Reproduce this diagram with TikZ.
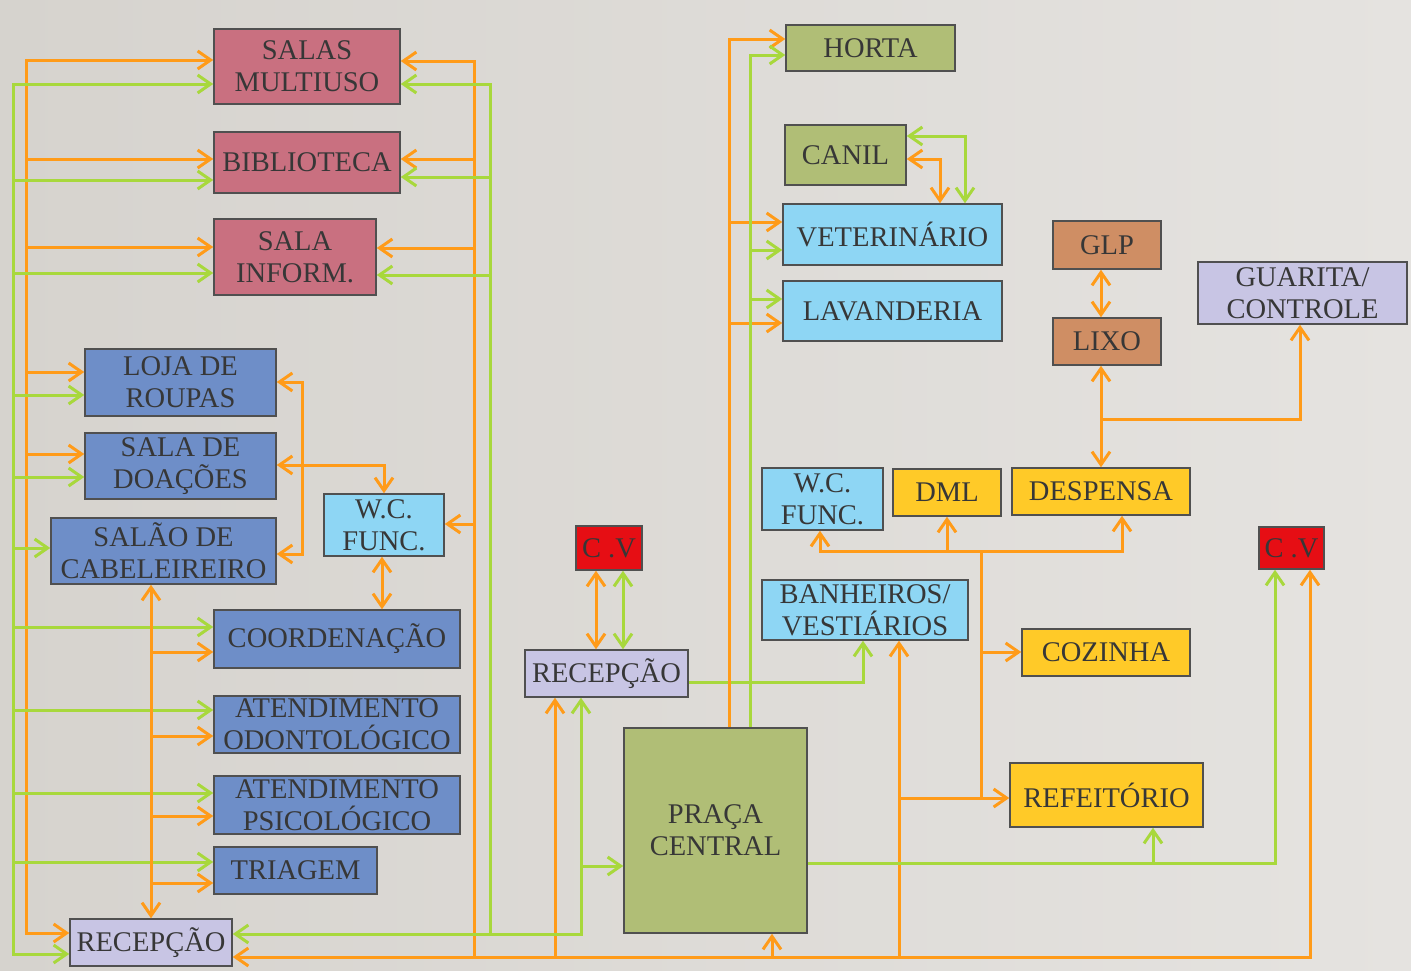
\documentclass[tikz,border=0pt]{standalone}
\usepackage{fontspec}
\setmainfont{Liberation Serif}
\usetikzlibrary{arrows.meta}

\definecolor{bgA}{HTML}{D6D3CE}
\definecolor{bgB}{HTML}{E5E3E0}
\definecolor{boxedge}{HTML}{505050}
\definecolor{ink}{HTML}{373737}
\definecolor{cpink}{HTML}{C97080}
\definecolor{cblue}{HTML}{6E8EC8}
\definecolor{csky}{HTML}{8ED6F4}
\definecolor{clav}{HTML}{C8C5E4}
\definecolor{colive}{HTML}{B0BE76}
\definecolor{cbrown}{HTML}{CF8E64}
\definecolor{cyellow}{HTML}{FFCA28}
\definecolor{cred}{HTML}{E60E14}
\definecolor{lorange}{HTML}{FF9B19}
\definecolor{lgreen}{HTML}{A8D83C}

% a room box given by its style, name, two opposite corners and its text
\newcommand\putroom[7]{%
  \pgfmathsetmacro\rcx{(#3+#5)/2}\pgfmathsetmacro\rcy{(#4+#6)/2}%
  \pgfmathsetmacro\rw{#5-#3}\pgfmathsetmacro\rh{#6-#4}%
  \node[#1,minimum width=\rw pt,minimum height=\rh pt] (#2) at (\rcx,\rcy) {#7};}

\begin{document}
\begin{tikzpicture}[x=1pt,y=-1pt,
  room/.style={draw=boxedge,line width=1.5pt,inner sep=0pt,align=center,
    text=ink,font=\fontsize{28.5}{31.7}\selectfont},
  pinkroom/.style={room,fill=cpink},
  blueroom/.style={room,fill=cblue},
  skyroom/.style={room,fill=csky},
  lavroom/.style={room,fill=clav},
  oliveroom/.style={room,fill=colive},
  brownroom/.style={room,fill=cbrown},
  yellowroom/.style={room,fill=cyellow},
  redroom/.style={room,fill=cred},
  og/.style={draw=lorange,line width=3pt},
  gr/.style={draw=lgreen,line width=3pt},
  >={Straight Barb[length=13pt,width=18pt]},
]
% background
\shade[left color=bgA,right color=bgB] (0,0) rectangle (1411,970);
\useasboundingbox (0,0) rectangle (1411,970);

% ---------- rooms ----------
\putroom{pinkroom}{salas}{214}{29}{400}{104}{SALAS\\MULTIUSO}
\putroom{pinkroom}{bib}{214}{132}{400}{193}{BIBLIOTECA}
\putroom{pinkroom}{inform}{214}{219}{376}{295}{SALA\\INFORM.}
\putroom{blueroom}{loja}{85}{349}{276}{416}{LOJA DE\\ROUPAS}
\putroom{blueroom}{doac}{85}{433}{276}{499}{SALA DE\\DOAÇÕES}
\putroom{blueroom}{salao}{51}{518}{276}{584}{SALÃO DE\\CABELEIREIRO}
\putroom{skyroom}{wcl}{324}{494}{444}{556}{W.C.\\FUNC.}
\putroom{blueroom}{coord}{214}{610}{460}{668}{COORDENAÇÃO}
\putroom{blueroom}{odonto}{214}{696}{460}{753}{ATENDIMENTO\\ODONTOLÓGICO}
\putroom{blueroom}{psico}{214}{776}{460}{834}{ATENDIMENTO\\PSICOLÓGICO}
\putroom{blueroom}{triagem}{214}{847}{377}{894}{TRIAGEM}
\putroom{lavroom}{recl}{70}{919}{232}{966}{RECEPÇÃO}
\putroom{redroom}{cvl}{576}{526}{642}{570}{C .V}
\putroom{lavroom}{recc}{525}{650}{688}{697}{RECEPÇÃO}
\putroom{oliveroom}{praca}{624}{728}{807}{933}{PRAÇA\\CENTRAL}
\putroom{oliveroom}{horta}{786}{25}{955}{71}{HORTA}
\putroom{oliveroom}{canil}{785}{125}{906}{185}{CANIL}
\putroom{skyroom}{vet}{783}{204}{1002}{265}{VETERINÁRIO}
\putroom{skyroom}{lav}{783}{281}{1002}{341}{LAVANDERIA}
\putroom{brownroom}{glp}{1053}{221}{1161}{269}{GLP}
\putroom{brownroom}{lixo}{1053}{318}{1161}{365}{LIXO}
\putroom{lavroom}{guarita}{1198}{262}{1407}{324}{GUARITA/\\CONTROLE}
\putroom{skyroom}{wcr}{762}{468}{883}{530}{W.C.\\FUNC.}
\putroom{yellowroom}{dml}{893}{469}{1001}{516}{DML}
\putroom{yellowroom}{desp}{1012}{468}{1190}{515}{DESPENSA}
\putroom{skyroom}{banh}{762}{580}{968}{640}{BANHEIROS/\\VESTIÁRIOS}
\putroom{yellowroom}{coz}{1022}{629}{1190}{676}{COZINHA}
\putroom{yellowroom}{ref}{1010}{763}{1203}{827}{REFEITÓRIO}
\putroom{redroom}{cvr}{1259}{527}{1324}{569}{C .V}

% ---------- left orange bus ----------
\draw[og,<->] (salas.west |- 0,60) -- (26,60) -- (26,933) -- (recl.west |- 0,933);
\draw[og,->] (26,159) -- (bib.west |- 0,159);
\draw[og,->] (26,247) -- (inform.west |- 0,247);
\draw[og,->] (26,372) -- (loja.west |- 0,372);
\draw[og,->] (26,454) -- (doac.west |- 0,454);

% ---------- left green bus ----------
\draw[gr,<->] (salas.west |- 0,84) -- (13,84) -- (13,954) -- (recl.west |- 0,954);
\draw[gr,->] (13,180) -- (bib.west |- 0,180);
\draw[gr,->] (13,273) -- (inform.west |- 0,273);
\draw[gr,->] (13,395) -- (loja.west |- 0,395);
\draw[gr,->] (13,477) -- (doac.west |- 0,477);
\draw[gr,->] (13,548) -- (salao.west |- 0,548);
\draw[gr,->] (13,627) -- (coord.west |- 0,627);
\draw[gr,->] (13,710) -- (odonto.west |- 0,710);
\draw[gr,->] (13,793) -- (psico.west |- 0,793);
\draw[gr,->] (13,862) -- (triagem.west |- 0,862);

% ---------- right orange bus and bottom line ----------
\draw[og,<->] (recl.east |- 0,957) -- (1310,957) -- (cvr.south -| 1310,0);
\draw[og,->] (474,957) -- (474,61) -- (salas.east |- 0,61);
\draw[og,->] (474,159) -- (bib.east |- 0,159);
\draw[og,->] (474,248) -- (inform.east |- 0,248);
\draw[og,->] (474,524) -- (wcl.east |- 0,524);
\draw[og,->] (555,957) -- (recc.south -| 555,0);
\draw[og,->] (772,957) -- (praca.south -| 772,0);
\draw[og,->] (899,957) -- (banh.south -| 899,0);
\draw[og,->] (899,798) -- (ref.west |- 0,798);

% ---------- right green bus ----------
\draw[gr,<->] (salas.east |- 0,84) -- (490,84) -- (490,934) -- (recl.east |- 0,934);
\draw[gr,->] (490,177) -- (bib.east |- 0,177);
\draw[gr,->] (490,275) -- (inform.east |- 0,275);
\draw[gr,->] (490,934) -- (581,934) -- (recc.south -| 581,0);
\draw[gr,->] (581,866) -- (praca.west |- 0,866);

% ---------- shops and services block ----------
\draw[og,<->] (loja.east |- 0,382) -- (302,382) -- (302,554) -- (salao.east |- 0,554);
\draw[og,<->] (doac.east |- 0,465) -- (384,465) -- (wcl.north -| 384,0);
\draw[og,<->] (wcl.south -| 382,0) -- (coord.north -| 382,0);
\draw[og,<->] (salao.south -| 151,0) -- (recl.north -| 151,0);
\draw[og,->] (151,652) -- (coord.west |- 0,652);
\draw[og,->] (151,736) -- (odonto.west |- 0,736);
\draw[og,->] (151,816) -- (psico.west |- 0,816);
\draw[og,->] (151,883) -- (triagem.west |- 0,883);

% ---------- central reception ----------
\draw[og,<->] (cvl.south -| 596,0) -- (recc.north -| 596,0);
\draw[gr,<->] (cvl.south -| 623,0) -- (recc.north -| 623,0);
\draw[gr,->] (recc.east |- 0,682) -- (863,682) -- (banh.south -| 863,0);

% ---------- from the square upwards ----------
\draw[og,->] (praca.north -| 729,0) -- (729,39) -- (horta.west |- 0,39);
\draw[og,->] (729,222) -- (vet.west |- 0,222);
\draw[og,->] (729,323) -- (lav.west |- 0,323);
\draw[gr,->] (praca.north -| 750,0) -- (750,55) -- (horta.west |- 0,55);
\draw[gr,->] (750,250) -- (vet.west |- 0,250);
\draw[gr,->] (750,299) -- (lav.west |- 0,299);
\draw[gr,<->] (canil.east |- 0,136) -- (965,136) -- (vet.north -| 965,0);
\draw[og,<->] (canil.east |- 0,159) -- (940,159) -- (vet.north -| 940,0);

% ---------- service area ----------
\draw[og,<->] (glp.south -| 1101,0) -- (lixo.north -| 1101,0);
\draw[og,<->] (lixo.south -| 1101,0) -- (desp.north -| 1101,0);
\draw[og,->] (1101,419) -- (1300,419) -- (guarita.south -| 1300,0);
\draw[og,<->] (wcr.south -| 820,0) -- (820,551) -- (1122,551) -- (desp.south -| 1122,0);
\draw[og,->] (947,551) -- (dml.south -| 947,0);
\draw[og] (981,551) -- (981,798);
\draw[og,->] (981,652) -- (coz.west |- 0,652);

% ---------- square to the right ----------
\draw[gr,->] (praca.east |- 0,863) -- (1275,863) -- (cvr.south -| 1275,0);
\draw[gr,->] (1153,863) -- (ref.south -| 1153,0);
\end{tikzpicture}
\end{document}
